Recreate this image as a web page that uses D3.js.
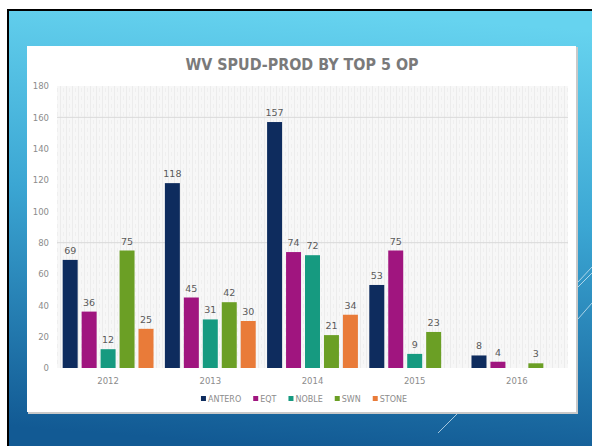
<!DOCTYPE html>
<html>
<head>
<meta charset="utf-8">
<script src="https://cdn.jsdelivr.net/npm/d3@7"></script>
<style>
  body { margin: 0; background: #fff; }
  svg { display: block; font-family: "DejaVu Sans", sans-serif; }
</style>
</head>
<body>
<div class="container"></div>
<script>
"use strict";

// chart data
const years = ["2012", "2013", "2014", "2015", "2016"];
const operators = ["ANTERO", "EQT", "NOBLE", "SWN", "STONE"];
const antero = [69, 118, 157, 53, 8];
const eqt = [36, 45, 74, 75, 4];
const noble = [12, 31, 72, 9, null];
const swn = [75, 42, 21, 23, 3];
const stone = [25, 30, 34, null, null];
const yTicks = [0, 20, 40, 60, 80, 100, 120, 140, 160, 180];
const gridValues = [80, 160];
const title = "WV SPUD-PROD BY TOP 5 OP";

const seriesValues = [antero, eqt, noble, swn, stone];
const colors = ["#0e2c5e", "#a0157f", "#169a80", "#6b9f25", "#e97b39"];

const W = 592, H = 446;
const plot = { left: 57, right: 568, top: 86, bottom: 368 };

const svg = d3.select(".container").append("svg")
  .attr("width", W).attr("height", H);

const defs = svg.append("defs");
const grad = defs.append("linearGradient").attr("id", "bg")
  .attr("x1", "0.55").attr("y1", "0").attr("x2", "0.45").attr("y2", "1");
grad.append("stop").attr("offset", "0").attr("stop-color", "#66d3ef");
grad.append("stop").attr("offset", "0.45").attr("stop-color", "#3ba6d3");
grad.append("stop").attr("offset", "1").attr("stop-color", "#125a94");

// checkered plot background
const pat = defs.append("pattern").attr("id", "chk")
  .attr("patternUnits", "userSpaceOnUse").attr("width", 6).attr("height", 8);
pat.append("rect").attr("width", 6).attr("height", 8).attr("fill", "#f7f7f7");
pat.append("rect").attr("width", 1).attr("height", 8).attr("fill", "#ececec");
pat.append("rect").attr("x", 3).attr("width", 1).attr("height", 4).attr("fill", "#efefef");

// slide
svg.append("rect").attr("x", 7).attr("y", 9).attr("width", W - 7).attr("height", H - 9).attr("fill", "#000");
svg.append("rect").attr("x", 9).attr("y", 11).attr("width", W - 9).attr("height", H - 11).attr("fill", "url(#bg)");

// decorative thin lines
const deco = [
  [578, 282, 592, 267], [578, 287, 592, 273], [578, 319, 592, 303], [457, 414, 438, 433]
];
svg.append("g").selectAll("line").data(deco).join("line")
  .attr("x1", d => d[0]).attr("y1", d => d[1]).attr("x2", d => d[2]).attr("y2", d => d[3])
  .attr("stroke", "#e8f6fc").attr("stroke-width", 0.8).attr("opacity", 0.85);

// panel
svg.append("rect").attr("x", 28).attr("y", 47).attr("width", 550).attr("height", 367).attr("fill", "#c9c9c9");
svg.append("rect").attr("x", 27).attr("y", 46).attr("width", 549).attr("height", 366).attr("fill", "#fff");

svg.append("text").attr("x", 302).attr("y", 70)
  .attr("text-anchor", "middle").attr("fill", "#7a7a7a")
  .attr("font-size", 15).attr("font-weight", "bold")
  .attr("textLength", 233).attr("lengthAdjust", "spacingAndGlyphs")
  .text(title);

const x0 = d3.scaleBand().domain(years).range([plot.left, plot.right]);
const x1 = d3.scaleBand().domain(operators).range([0, x0.bandwidth()])
  .paddingInner(0.21).paddingOuter(0.3);
const y = d3.scaleLinear().domain([0, 180]).range([plot.bottom, plot.top]);

svg.append("rect").attr("x", plot.left).attr("y", plot.top)
  .attr("width", plot.right - plot.left).attr("height", plot.bottom - plot.top)
  .attr("fill", "url(#chk)");

svg.append("g").selectAll("line").data(gridValues).join("line")
  .attr("x1", plot.left).attr("x2", plot.right)
  .attr("y1", d => y(d)).attr("y2", d => y(d))
  .attr("stroke", "#d9d9d9").attr("stroke-width", 1);

const yAxis = svg.append("g").attr("transform", `translate(${plot.left},0)`)
  .call(d3.axisLeft(y).tickValues(yTicks).tickSize(0).tickPadding(8));
yAxis.select(".domain").remove();
yAxis.selectAll("text").attr("fill", "#8c8c8c").attr("font-size", 8.5)
  .attr("font-family", "DejaVu Sans");

const xAxis = svg.append("g").attr("transform", `translate(0,${plot.bottom})`)
  .call(d3.axisBottom(x0).tickSize(0).tickPadding(10));
xAxis.select(".domain").remove();
xAxis.selectAll("text").attr("fill", "#8c8c8c").attr("font-size", 8.5)
  .attr("font-family", "DejaVu Sans");

// bars
const rows = [];
years.forEach((yr, i) => {
  operators.forEach((op, j) => {
    const v = seriesValues[j][i];
    if (v != null) rows.push({ year: yr, op: op, value: v, color: colors[j] });
  });
});

const bars = svg.append("g");
bars.selectAll("rect").data(rows).join("rect")
  .attr("x", d => x0(d.year) + x1(d.op))
  .attr("y", d => y(d.value))
  .attr("width", x1.bandwidth())
  .attr("height", d => y(0) - y(d.value))
  .attr("fill", d => d.color);

bars.selectAll("text").data(rows).join("text")
  .attr("x", d => x0(d.year) + x1(d.op) + x1.bandwidth() / 2)
  .attr("y", d => y(d.value) - 6)
  .attr("text-anchor", "middle").attr("fill", "#5a5a5a").attr("font-size", 9.5)
  .text(d => d.value);

// legend
const legend = svg.append("g").attr("transform", "translate(0,399)");
let lx = 0;
const items = legend.selectAll("g").data(operators).join("g");
items.append("rect").attr("y", -3).attr("width", 5).attr("height", 5)
  .attr("fill", (d, i) => colors[i]);
items.append("text").attr("x", 7).attr("y", 3)
  .attr("fill", "#8c8c8c").attr("font-size", 8).text(d => d);
items.each(function () {
  const g = d3.select(this);
  g.attr("transform", `translate(${lx},0)`);
  lx += 7 + g.select("text").node().getComputedTextLength() + 12;
});
legend.attr("transform", `translate(${304 - (lx - 12) / 2},399)`);
</script>
</body>
</html>
